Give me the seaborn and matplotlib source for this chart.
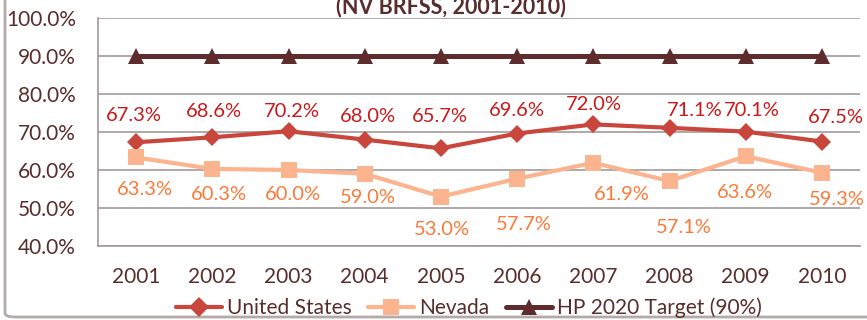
import matplotlib
matplotlib.use("Agg")
import matplotlib.pyplot as plt
from matplotlib.patches import FancyBboxPatch
from matplotlib.lines import Line2D
import numpy as np
import pandas as pd
import seaborn as sns

# ---- data ----
years = ["2001", "2002", "2003", "2004", "2005", "2006", "2007", "2008", "2009", "2010"]
us_rates = [67.3, 68.6, 70.2, 68.0, 65.7, 69.6, 72.0, 71.1, 70.1, 67.5]
nv_rates = [63.3, 60.3, 60.0, 59.0, 53.0, 57.7, 61.9, 57.1, 63.6, 59.3]
target_rates = [90.0] * 10
series_names = ["United States", "Nevada", "HP 2020 Target (90%)"]
y_ticks = [40, 50, 60, 70, 80, 90, 100]
title_text = "(NV BRFSS, 2001-2010)"

# label nudges in pixels (dx, dy)
us_label_offsets = [(-2, 27), (2, 26), (3, 20), (3, 23), (-1, 32), (0, 23), (1, 20), (25, 17), (6, 21), (14, 24)]
nv_label_offsets = [(9, -32), (7, -26), (4, -25), (3, -24), (1, -33), (7, -46), (29, -32), (14, -46), (-1, -36), (15, -27)]

# ---- styling ----
sns.set_theme(style="white")
plt.rcParams["font.family"] = ["Lato", "DejaVu Sans"]

c_us = "#C8463B"
c_us_text = "#C81A1A"
c_nv = "#FBB48E"
c_nv_text = "#FB7A38"
c_target = "#5E2C2C"
c_text = "#5A2D2D"
c_grid = "#A39999"

fs = 15
fs_label = 14.5

df = pd.DataFrame({
    "pos": list(range(len(years))) * 3,
    "rate": us_rates + nv_rates + target_rates,
    "series": [series_names[0]] * 10 + [series_names[1]] * 10 + [series_names[2]] * 10,
})

fig = plt.figure(figsize=(8.67, 3.2), dpi=100)
ax = fig.add_axes([98 / 867, 1 - 246 / 320, 762 / 867, 228 / 320])

palette = {series_names[0]: c_us, series_names[1]: c_nv, series_names[2]: c_target}
markers = {series_names[0]: "D", series_names[1]: "s", series_names[2]: "^"}
widths = {series_names[0]: 3.0, series_names[1]: 3.0, series_names[2]: 3.6}
msizes = {series_names[0]: 9, series_names[1]: 12, series_names[2]: 12}

for name in series_names:
    sub = df[df["series"] == name]
    sns.lineplot(data=sub, x="pos", y="rate", ax=ax, color=palette[name],
                 marker=markers[name], markersize=msizes[name], markeredgewidth=0,
                 linewidth=widths[name], legend=False, zorder=3)

# data labels
for i, v in enumerate(us_rates):
    dx, dy = us_label_offsets[i]
    ax.annotate(f"{v:.1f}%", (i, v), xytext=(dx, dy), textcoords="offset pixels",
                ha="center", va="center", fontsize=fs_label, color=c_us_text, zorder=5,
                annotation_clip=False)
for i, v in enumerate(nv_rates):
    dx, dy = nv_label_offsets[i]
    ax.annotate(f"{v:.1f}%", (i, v), xytext=(dx, dy), textcoords="offset pixels",
                ha="center", va="center", fontsize=fs_label, color=c_nv_text, zorder=5,
                annotation_clip=False)

# axes
ax.set_xlim(-0.5, len(years) - 0.5)
ax.set_ylim(40, 100)
ax.set_yticks(y_ticks)
ax.set_yticklabels([f"{t:.1f}%" for t in y_ticks], fontsize=fs, color=c_text)
ax.set_xticks(range(len(years)))
ax.set_xticklabels(years, fontsize=fs, color=c_text)
ax.set_xticks(np.arange(-0.5, len(years), 1.0), minor=True)
ax.tick_params(axis="x", which="major", length=0, pad=15)
ax.tick_params(axis="x", which="minor", length=6, width=1.2, color=c_grid, direction="out")
ax.tick_params(axis="y", which="major", length=6, width=1.2, color=c_grid, direction="out", pad=10)
ax.grid(axis="y", color=c_grid, linewidth=1.2, zorder=0)
ax.set_axisbelow(True)
ax.set_xlabel("")
ax.set_ylabel("")
for side in ["top", "right"]:
    ax.spines[side].set_visible(False)
for side in ["left", "bottom"]:
    ax.spines[side].set_color(c_grid)
    ax.spines[side].set_linewidth(1.2)

# title (runs off the top of the canvas)
fig.text(451 / 867, 1 - 13 / 320, title_text, ha="center", va="baseline",
         fontsize=15.5, fontweight="bold", color=c_text)

# legend
handles = [
    Line2D([], [], color=c_us, lw=3.0, marker="D", markersize=10, markeredgewidth=0),
    Line2D([], [], color=c_nv, lw=3.0, marker="s", markersize=12, markeredgewidth=0),
    Line2D([], [], color=c_target, lw=3.6, marker="^", markersize=12, markeredgewidth=0),
]
fig.legend(handles, series_names, loc="center", bbox_to_anchor=(469 / 867, 1 - 308 / 320),
           ncol=3, frameon=False, fontsize=fs, labelcolor=c_text, handlelength=2.2,
           handletextpad=0.25, columnspacing=0.8, borderpad=0, borderaxespad=0)

# outer rounded frame
frame = FancyBboxPatch((5 / 867, 3 / 320), 1.2, 1.2,
                       boxstyle="round,pad=0,rounding_size=0.012",
                       transform=fig.transFigure, fill=False,
                       edgecolor="#B5AAAA", linewidth=2.0, clip_on=False)
fig.patches.append(frame)

fig.savefig("out.png", dpi=100)
